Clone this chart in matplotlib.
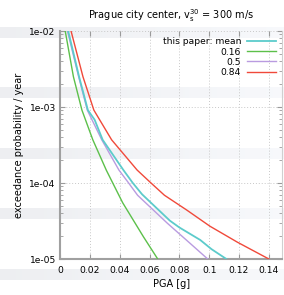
import numpy as np
import matplotlib
matplotlib.use("Agg")
import matplotlib.pyplot as plt
from matplotlib.ticker import LogLocator, FixedLocator, NullFormatter

# data (PGA [g] vs annual exceedance probability)
pga_mean = [0.0045, 0.0055, 0.0128, 0.0187, 0.0232, 0.0286, 0.0425, 0.0488, 0.055, 0.0736, 0.08, 0.094, 0.1015, 0.1115]
p_mean = [1.26e-2, 1e-2, 2.5e-3, 9.1e-4, 6.8e-4, 3.7e-4, 1.48e-4, 1e-4, 7.1e-5, 3.2e-5, 2.6e-5, 1.78e-5, 1.35e-5, 1e-5]

pga_16 = [0.0026, 0.0035, 0.009, 0.0147, 0.022, 0.031, 0.042, 0.056, 0.0655]
p_16 = [1.26e-2, 1e-2, 2.5e-3, 9.1e-4, 3.7e-4, 1.48e-4, 5.5e-5, 1.95e-5, 1e-5]

pga_50 = [0.004, 0.005, 0.0125, 0.0183, 0.028, 0.0395, 0.046, 0.052, 0.072, 0.087, 0.099]
p_50 = [1.26e-2, 1e-2, 2.5e-3, 9.1e-4, 3.7e-4, 1.48e-4, 1e-4, 6.9e-5, 2.95e-5, 1.62e-5, 1e-5]

pga_84 = [0.0062, 0.0074, 0.0154, 0.0227, 0.0346, 0.0517, 0.061, 0.070, 0.085, 0.1005, 0.119, 0.14]
p_84 = [1.26e-2, 1e-2, 2.5e-3, 9.1e-4, 3.7e-4, 1.48e-4, 1e-4, 6.9e-5, 4.4e-5, 2.7e-5, 1.66e-5, 1e-5]

labels = ["this paper: mean", "0.16", "0.5", "0.84"]
colors = ["#5ccbcb", "#5cc04a", "#b99be0", "#f0493a"]

xticks = [0, 0.02, 0.04, 0.06, 0.08, 0.1, 0.12, 0.14]
xticklabels = ["0", "0.02", "0.04", "0.06", "0.08", "0.1", "0.12", "0.14"]
yticks = [1e-5, 1e-4, 1e-3, 1e-2]
yticklabels = ["1e-05", "1e-04", "1e-03", "1e-02"]

W, H = 284, 295
fig = plt.figure(figsize=(W / 100, H / 100), dpi=100)

# faint striped page background behind the figure
bg = fig.add_axes([0, 0, 1, 1], zorder=-10)
img = np.ones((H, W, 3))
fade = np.linspace(0.935, 0.975, W)
for top in [27, 87, 148, 208, 269]:
    img[top:top + 11, :, :] = fade[None, :, None] * np.array([0.995, 1.0, 1.012])[None, None, :]
bg.imshow(np.clip(img, 0, 1), aspect="auto", extent=[0, W, H, 0])
bg.set_axis_off()

ax = fig.add_axes([60 / W, 1 - 259 / H, 224 / W - 0.006, 228 / H])
ax.patch.set_alpha(0)

ax.plot(pga_mean, p_mean, color=colors[0], lw=1.3, label=labels[0], zorder=4)
ax.plot(pga_16, p_16, color=colors[1], lw=1.0, label=labels[1], zorder=3)
ax.plot(pga_50, p_50, color=colors[2], lw=1.0, label=labels[2], zorder=3)
ax.plot(pga_84, p_84, color=colors[3], lw=1.0, label=labels[3], zorder=3)

ax.set_yscale("log")
ax.set_xlim(0, 0.149)
ax.set_ylim(1e-5, 1e-2)

ax.xaxis.set_major_locator(FixedLocator(xticks))
ax.set_xticklabels(xticklabels)
ax.yaxis.set_major_locator(FixedLocator(yticks))
ax.set_yticklabels(yticklabels)
ax.yaxis.set_minor_locator(LogLocator(base=10, subs=np.arange(2, 10)))
ax.yaxis.set_minor_formatter(NullFormatter())

gray = "#9a9a9a"
ax.tick_params(which="both", direction="in", colors=gray, labelcolor="black",
               labelsize=6.6, top=True, right=True)
ax.tick_params(which="major", length=3.5, width=0.8)
ax.tick_params(which="minor", length=2, width=0.6)
ax.tick_params(axis="x", pad=5)
ax.tick_params(axis="y", pad=3)

for side in ["left", "bottom"]:
    ax.spines[side].set_color("#a0a0a0")
    ax.spines[side].set_linewidth(1.5)
ax.spines["top"].set_visible(False)
ax.spines["right"].set_color("#d0d0d0")
ax.spines["right"].set_linewidth(0.8)

ax.grid(True, which="major", color="#c8c8c8", linestyle=(0, (1, 2)), linewidth=0.7)

ax.set_xlabel("PGA [g]", fontsize=7, labelpad=3)
ax.set_ylabel("exceedance probability / year", fontsize=7, labelpad=4)
ax.set_title(r"Prague city center, v$_\mathrm{s}^{30}$ = 300 m/s", fontsize=7, pad=9)

leg = ax.legend(loc="upper right", frameon=False, markerfirst=False, fontsize=6.6,
                handlelength=3.2, labelspacing=0.12, borderaxespad=0.3, handletextpad=0.6)

fig.savefig("out.png", dpi=100)
